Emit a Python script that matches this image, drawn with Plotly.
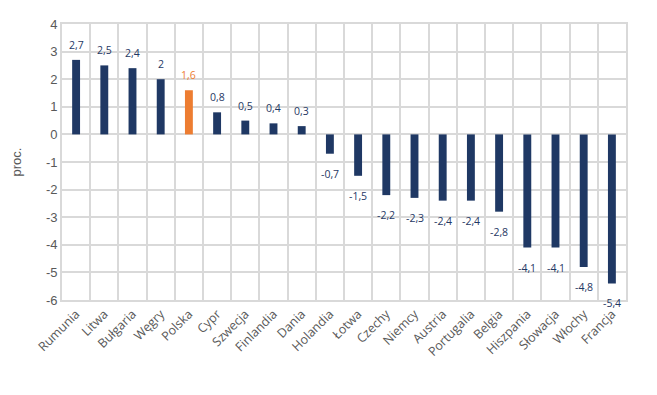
import plotly.graph_objects as go

countries = ["Rumunia", "Litwa", "Bułgaria", "Węgry", "Polska", "Cypr", "Szwecja", "Finlandia",
             "Dania", "Holandia", "Łotwa", "Czechy", "Niemcy", "Austria", "Portugalia", "Belgia",
             "Hiszpania", "Słowacja", "Włochy", "Francja"]
values = [2.7, 2.5, 2.4, 2.0, 1.6, 0.8, 0.5, 0.4, 0.3, -0.7, -1.5, -2.2, -2.3, -2.4, -2.4, -2.8,
          -4.1, -4.1, -4.8, -5.4]
y_ticks = [4, 3, 2, 1, 0, -1, -2, -3, -4, -5, -6]
highlight = "Polska"

NAVY = "#1F3864"
ORANGE = "#ED7D31"

colors = [ORANGE if c == highlight else NAVY for c in countries]


def fmt(v):
    return ("%g" % v).replace(".", ",")


fig = go.Figure()
fig.add_trace(go.Bar(
    x=countries, y=values, marker=dict(color=colors, line=dict(width=0)),
    width=0.28, hoverinfo="x+y",
))

for c, v, col in zip(countries, values, colors):
    fig.add_annotation(
        x=c, y=v, text=fmt(v), showarrow=False,
        yanchor="middle", yshift=15 if v >= 0 else -20,
        font=dict(family="Open Sans, Liberation Sans, sans-serif", size=10.5,
                  color=ORANGE if c == highlight else NAVY),
    )

fig.update_layout(
    width=657, height=395,
    margin=dict(l=54, r=39, t=16, b=103),
    paper_bgcolor="white", plot_bgcolor="white",
    showlegend=False,
    font=dict(family="Liberation Sans, Arial, sans-serif", color="#595959"),
)
fig.update_xaxes(
    type="category", tickson="boundaries", showgrid=True, gridcolor="#D9D9D9", gridwidth=1.6,
    tickangle=-45, tickfont=dict(family="Open Sans, sans-serif", size=12.5, color="#595959"),
    ticks="", showline=True, linecolor="#D9D9D9", linewidth=1.6, mirror=True,
    range=[-0.5, len(countries) - 0.5], automargin=False,
)
fig.update_yaxes(
    range=[-6, 4], tickvals=y_ticks, ticktext=[str(t) for t in y_ticks],
    showgrid=True, gridcolor="#D9D9D9", gridwidth=1.6, zeroline=False,
    tickfont=dict(size=13, color="#595959"), ticks="", ticklen=0,
    showline=True, linecolor="#D9D9D9", linewidth=1.6, mirror=True,
    automargin=False,
    title=dict(text="proc.", font=dict(size=13, color="#595959"), standoff=21),
)

fig.write_html("out.html")
